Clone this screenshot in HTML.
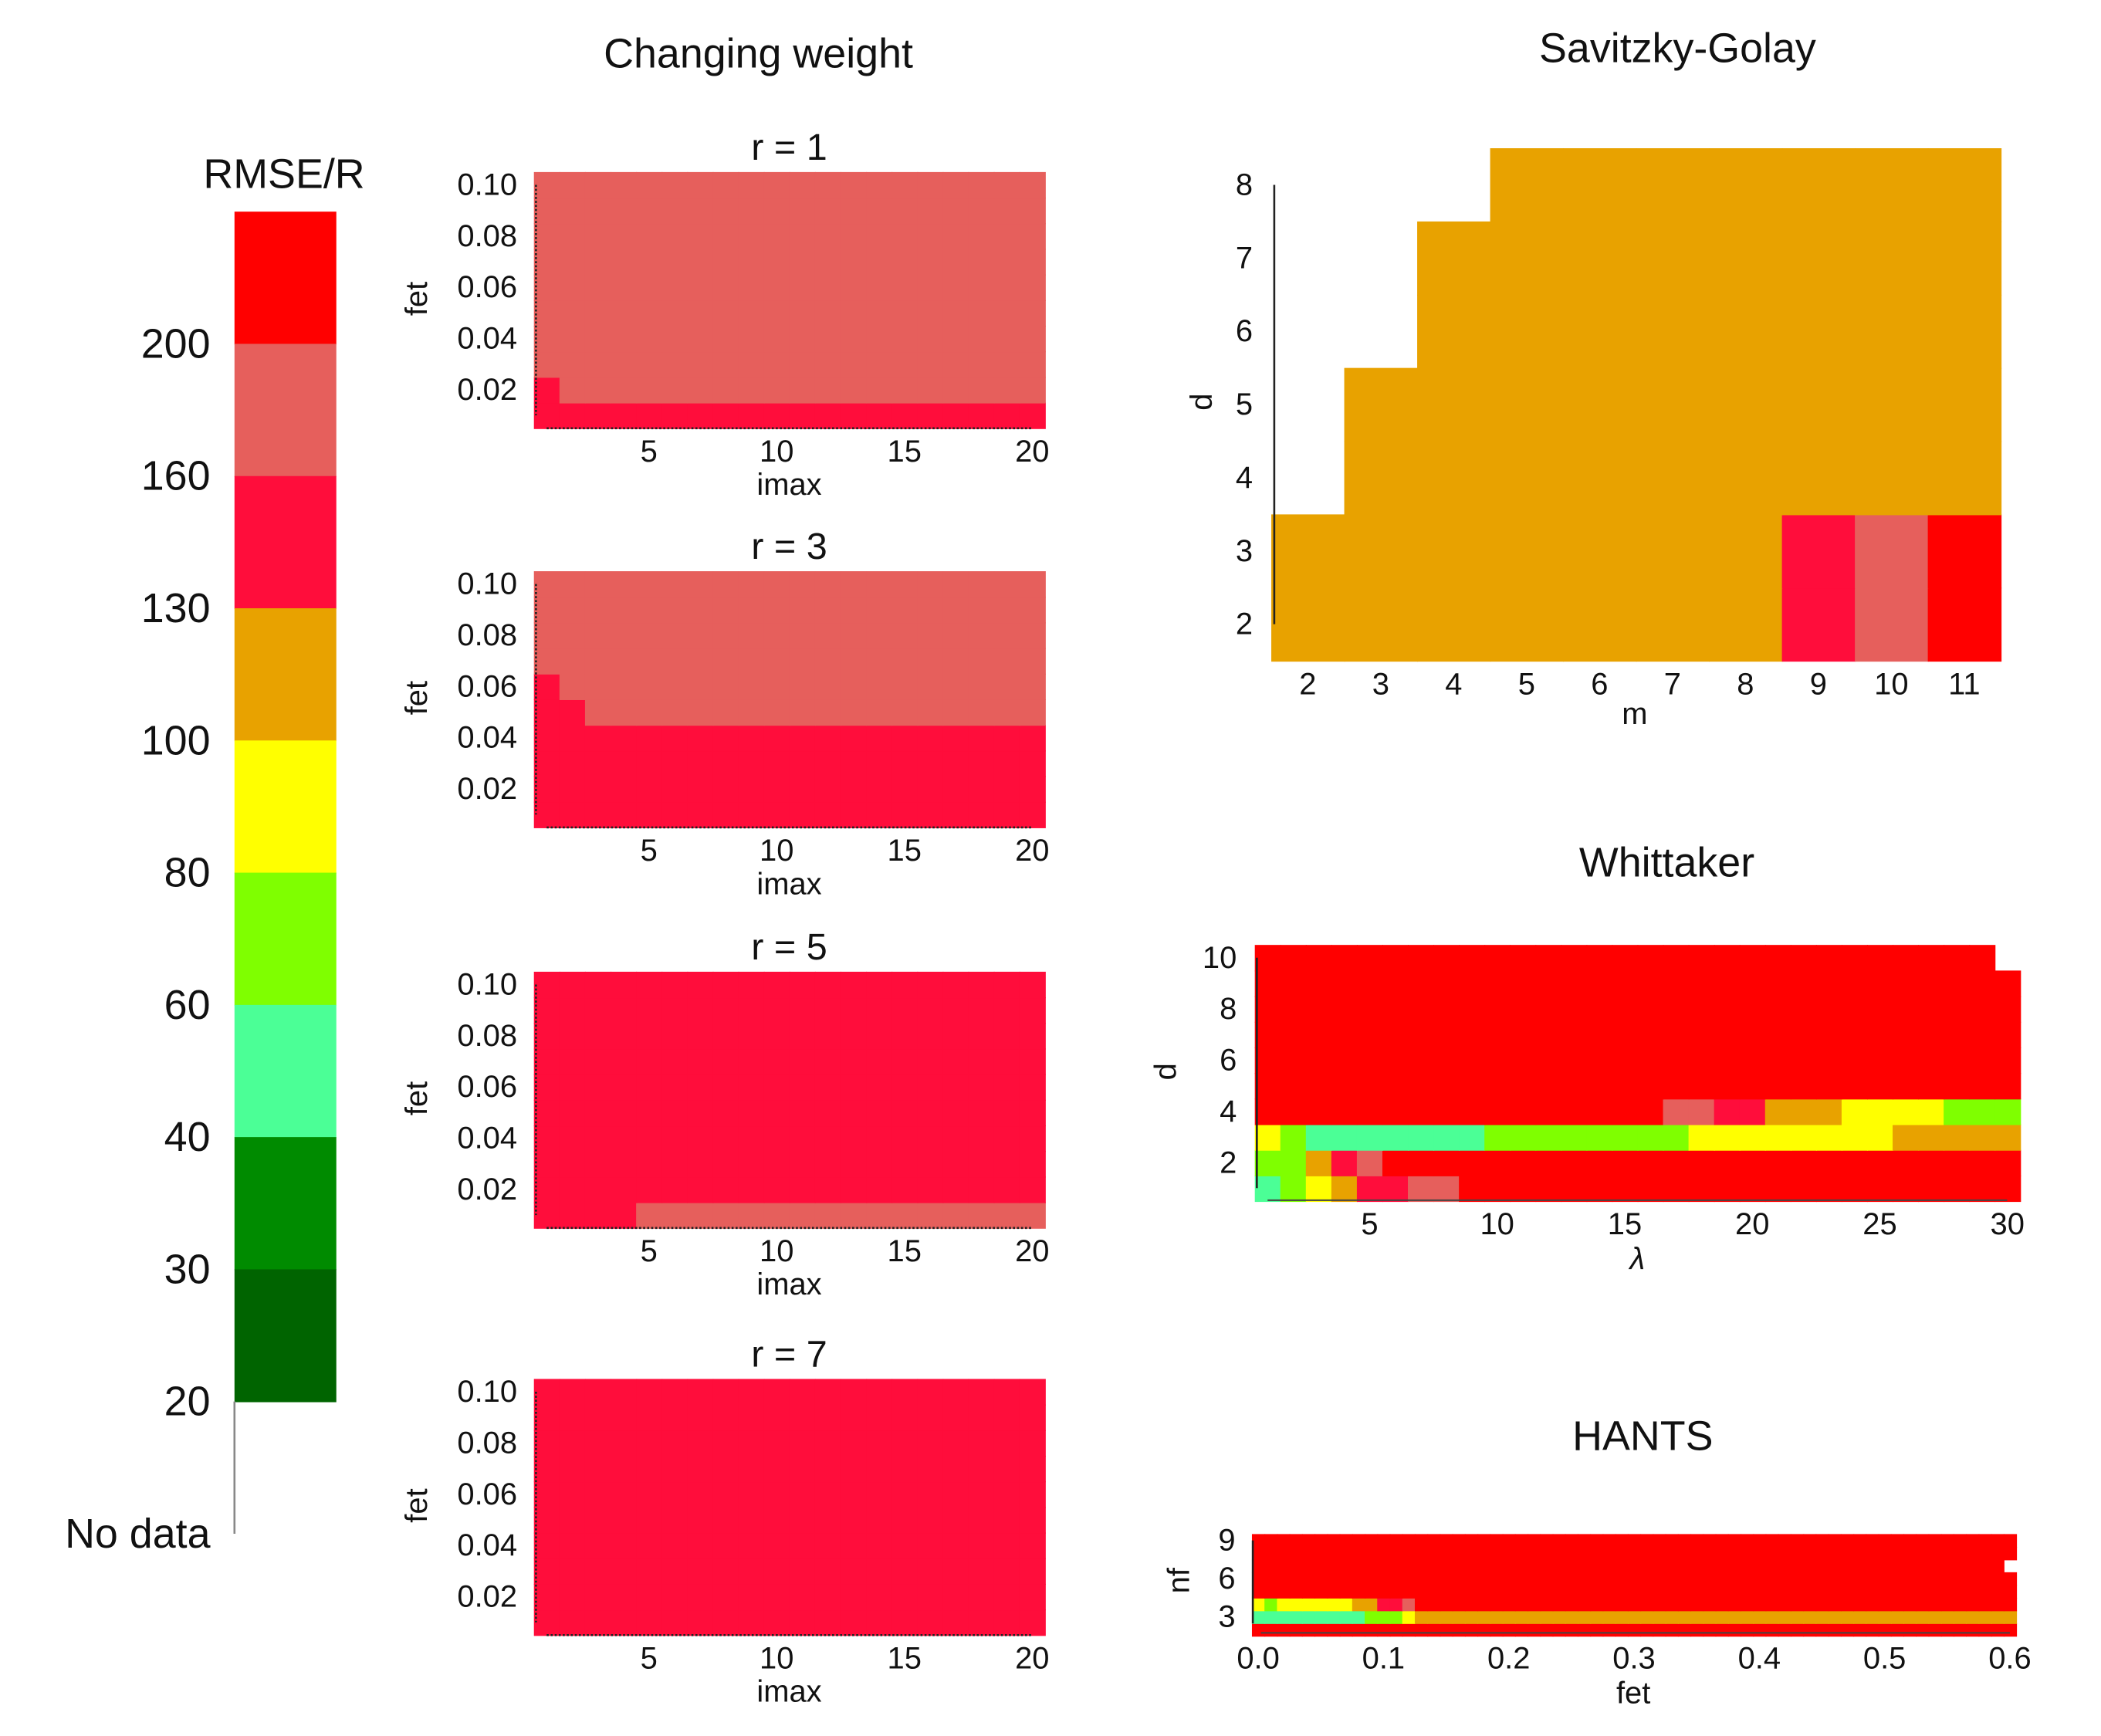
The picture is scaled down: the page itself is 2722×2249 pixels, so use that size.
<!DOCTYPE html>
<html><head><meta charset="utf-8"><style>
html,body{margin:0;padding:0;background:#fff;}
svg{display:block;font-family:"Liberation Sans",sans-serif;}
</style></head><body>
<svg id="fig" width="2722" height="2249" viewBox="0 0 1568 1296" preserveAspectRatio="none" xmlns="http://www.w3.org/2000/svg"></svg>
<script>
// ---------- data ----------
// colour classes: 0 no data, 1..9 increasing RMSE/R bins
const classColors = ["#ffffff","#006400","#008b00","#4bff96","#7fff00","#ffff00","#e8a200","#ff0d3b","#e65f5c","#ff0000"];
const colorbarLabels = ["20","30","40","60","80","100","130","160","200"];

const imaxValues = [1,2,3,4,5,6,7,8,9,10,11,12,13,14,15,16,17,18,19,20];
const fetValuesCW = [0.01,0.02,0.03,0.04,0.05,0.06,0.07,0.08,0.09,0.10];
const cwXTicks = [5,10,15,20];
const cwYTicks = ["0.02","0.04","0.06","0.08","0.10"];
const cwTitles = ["r = 1","r = 3","r = 5","r = 7"];
// run-length rows [class,count], row index = fet (0.01 .. 0.10)
const cwR1 = [[[7,20]],[[7,1],[8,19]],[[8,20]],[[8,20]],[[8,20]],[[8,20]],[[8,20]],[[8,20]],[[8,20]],[[8,20]]];
const cwR3 = [[[7,20]],[[7,20]],[[7,20]],[[7,20]],[[7,2],[8,18]],[[7,1],[8,19]],[[8,20]],[[8,20]],[[8,20]],[[8,20]]];
const cwR5 = [[[7,4],[8,16]],[[7,20]],[[7,20]],[[7,20]],[[7,20]],[[7,20]],[[7,20]],[[7,20]],[[7,20]],[[7,20]]];
const cwR7 = [[[7,20]],[[7,20]],[[7,20]],[[7,20]],[[7,20]],[[7,20]],[[7,20]],[[7,20]],[[7,20]],[[7,20]]];

const sgM = [2,3,4,5,6,7,8,9,10,11];
const sgD = [2,3,4,5,6,7,8];
const sgRows = [[[6,7],[7,1],[8,1],[9,1]],[[6,7],[7,1],[8,1],[9,1]],[[0,1],[6,9]],[[0,1],[6,9]],[[0,2],[6,8]],[[0,2],[6,8]],[[0,3],[6,7]]];

const whLambda = [1,2,3,4,5,6,7,8,9,10,11,12,13,14,15,16,17,18,19,20,21,22,23,24,25,26,27,28,29,30];
const whD = [1,2,3,4,5,6,7,8,9,10];
const whXTicks = [5,10,15,20,25,30];
const whYTicks = [2,4,6,8,10];
const whRows = [
 [[3,1],[4,1],[5,1],[6,1],[7,2],[8,2],[9,22]],
 [[4,2],[6,1],[7,1],[8,1],[9,25]],
 [[5,1],[4,1],[3,7],[4,8],[5,8],[6,5]],
 [[9,16],[8,2],[7,2],[6,3],[5,4],[4,3]],
 [[9,30]],[[9,30]],[[9,30]],[[9,30]],[[9,30]],
 [[9,29],[0,1]]
];

const hFetCount = 61; // fet 0.00 .. 0.60 step 0.01
const hNf = [2,3,4,5,6,7,8,9];
const hXTicks = ["0.0","0.1","0.2","0.3","0.4","0.5","0.6"];
const hYTicks = [3,6,9];
const hRows = [
 [[9,61]],
 [[3,9],[4,3],[5,1],[6,48]],
 [[5,1],[4,1],[5,6],[6,2],[7,2],[8,1],[9,48]],
 [[9,61]],[[9,61]],
 [[9,60],[0,1]],
 [[9,61]],[[9,61]]
];

// ---------- drawing ----------
const NS="http://www.w3.org/2000/svg";
const svg=document.getElementById('fig');
function mk(tag,attrs,parent){const e=document.createElementNS(NS,tag);for(const k in attrs)e.setAttribute(k,attrs[k]);(parent||svg).appendChild(e);return e;}
function txt(s,x,y,size,anchor,parent,rot){const t=mk('text',{x:x,y:y,'font-size':size,'text-anchor':anchor||'middle','dominant-baseline':'central',fill:'#111'},parent);if(rot)t.setAttribute('transform','rotate(-90 '+x+' '+y+')');t.textContent=s;return t;}
function expand(rle){const out=[];rle.forEach(p=>{for(let i=0;i<p[1];i++)out.push(p[0]);});return out;}

// colorbar
const cb=mk('g',{});


const cbTop=158,cbStep=98.7,cbX=175,cbW=76;
for(let i=9;i>=1;i--){
  const r=mk('rect',{x:cbX,y:cbTop+(9-i)*cbStep,width:cbW,height:cbStep+0.5,fill:classColors[i]},cb);
  
  
}
mk('line',{x1:cbX,y1:cbTop+9*cbStep,x2:cbX,y2:cbTop+10*cbStep,stroke:'#888','stroke-width':1.5},cb);
colorbarLabels.forEach((l,i)=>{const t=txt(l,157,cbTop+(8-i)*cbStep+cbStep,31,'end',cb);
  
  });
const nd=txt('No data',157,cbTop+10*cbStep,31,'end',cb);


const cbt=txt('RMSE/R',212,130,31,'middle',cb);



function heatmap(g,rows,xCount,yCount,xs,ys,cw,ch,name){
  rows.forEach((rle,ri)=>{
    const cells=expand(rle);
    cells.forEach((c,ci)=>{
      if(c===0)return;
      const r=mk('rect',{x:xs(ci),y:ys(ri)-ch/2,width:cw+0.6,height:ch+0.6,fill:classColors[c]},g);
      
      
    });
  });
}

// Changing weight
const st=txt('Changing weight',566,40,31,'middle');


const cwData=[cwR1,cwR3,cwR5,cwR7];
const cwOffsets=[0,298,597,901];
cwData.forEach((rows,pi)=>{
  const g=mk('g',{});
  
  
  const off=cwOffsets[pi];
  const xS=v=>408+(v-1)*19.07;
  const yS=f=>138+off+(0.10-f)*1912.5;
  const cw=19.07,ch=0.01*1912.5;
  heatmap(g,rows,20,10,ci=>xS(imaxValues[ci])-cw/2,ri=>yS(fetValuesCW[ri]),cw,ch,'heatmap-cell');
  mk('line',{x1:400,y1:yS(0.10),x2:400,y2:yS(0.01),stroke:'#222','stroke-width':1.5,'stroke-dasharray':'1.5 1.5'},g);
  mk('line',{x1:408,y1:yS(0.005),x2:770,y2:yS(0.005),stroke:'#222','stroke-width':1.5,'stroke-dasharray':'1.5 1.5'},g);
  cwXTicks.forEach(v=>{const t=txt(String(v),xS(v),337+off,23,'middle',g);});
  cwYTicks.forEach(v=>{const t=txt(v,386,yS(parseFloat(v)),23,'end',g);});
  const xl=txt('imax',589,362+off,23,'middle',g);
  const yl=txt('fet',311,223+off,23,'middle',g,true);
  const tt=txt(cwTitles[pi],589,110+off,28,'middle',g);
});

// Savitzky-Golay
(function(){
  const g=mk('g',{});
  
  
  const xS=m=>976+(m-2)*54.44, yS=d=>138+(8-d)*54.67;
  heatmap(g,sgRows,10,7,ci=>xS(sgM[ci])-27.22,ri=>yS(sgD[ri]),54.44,54.67,'heatmap-cell');
  mk('line',{x1:951,y1:138,x2:951,y2:466,stroke:'#222','stroke-width':1.5},g);
  sgM.forEach(v=>{const t=txt(String(v),xS(v),511,23,'middle',g);});
  sgD.forEach(v=>{const t=txt(String(v),935,yS(v),23,'end',g);});
  const xl=txt('m',1220,533,23,'middle',g);
  const yl=txt('d',897,300,23,'middle',g,true);
  const tt=txt('Savitzky-Golay',1252,36,31,'middle',g);
})();

// Whittaker
(function(){
  const g=mk('g',{});
  
  
  const xS=l=>946+(l-1)*19.04, yS=d=>715+(10-d)*19.125;
  heatmap(g,whRows,30,10,ci=>xS(whLambda[ci])-9.52,ri=>yS(whD[ri]),19.04,19.125,'heatmap-cell');
  mk('line',{x1:938,y1:715,x2:938,y2:887,stroke:'#222','stroke-width':1.5},g);
  mk('line',{x1:946,y1:896,x2:1498,y2:896,stroke:'#444','stroke-width':1.2},g);
  whXTicks.forEach(v=>{const t=txt(String(v),xS(v),914,23,'middle',g);});
  whYTicks.forEach(v=>{const t=txt(String(v),923,yS(v),23,'end',g);});
  const xl=txt('λ',1222,940,23,'middle',g);xl.setAttribute('font-style','italic');
  const yl=txt('d',870,800,23,'middle',g,true);
  const tt=txt('Whittaker',1244,644,31,'middle',g);
})();

// HANTS
(function(){
  const g=mk('g',{});
  
  
  const xS=f=>939+f*935, yS=n=>1150+(9-n)*9.5;
  heatmap(g,hRows,hFetCount,8,ci=>xS(ci*0.01)-4.675,ri=>yS(hNf[ri]),9.35,9.5,'heatmap-cell');
  mk('line',{x1:935,y1:1150,x2:935,y2:1212,stroke:'#222','stroke-width':1.5},g);
  mk('line',{x1:941,y1:1219,x2:1500,y2:1219,stroke:'#444','stroke-width':1.2},g);
  hXTicks.forEach(v=>{const t=txt(v,xS(parseFloat(v)),1238,23,'middle',g);});
  hYTicks.forEach(v=>{const t=txt(String(v),922,yS(v),23,'end',g);});
  const xl=txt('fet',1219,1264,23,'middle',g);
  const yl=txt('nf',880,1180,23,'middle',g,true);
  const tt=txt('HANTS',1226,1072,31,'middle',g);
})();
</script>
</body></html>
